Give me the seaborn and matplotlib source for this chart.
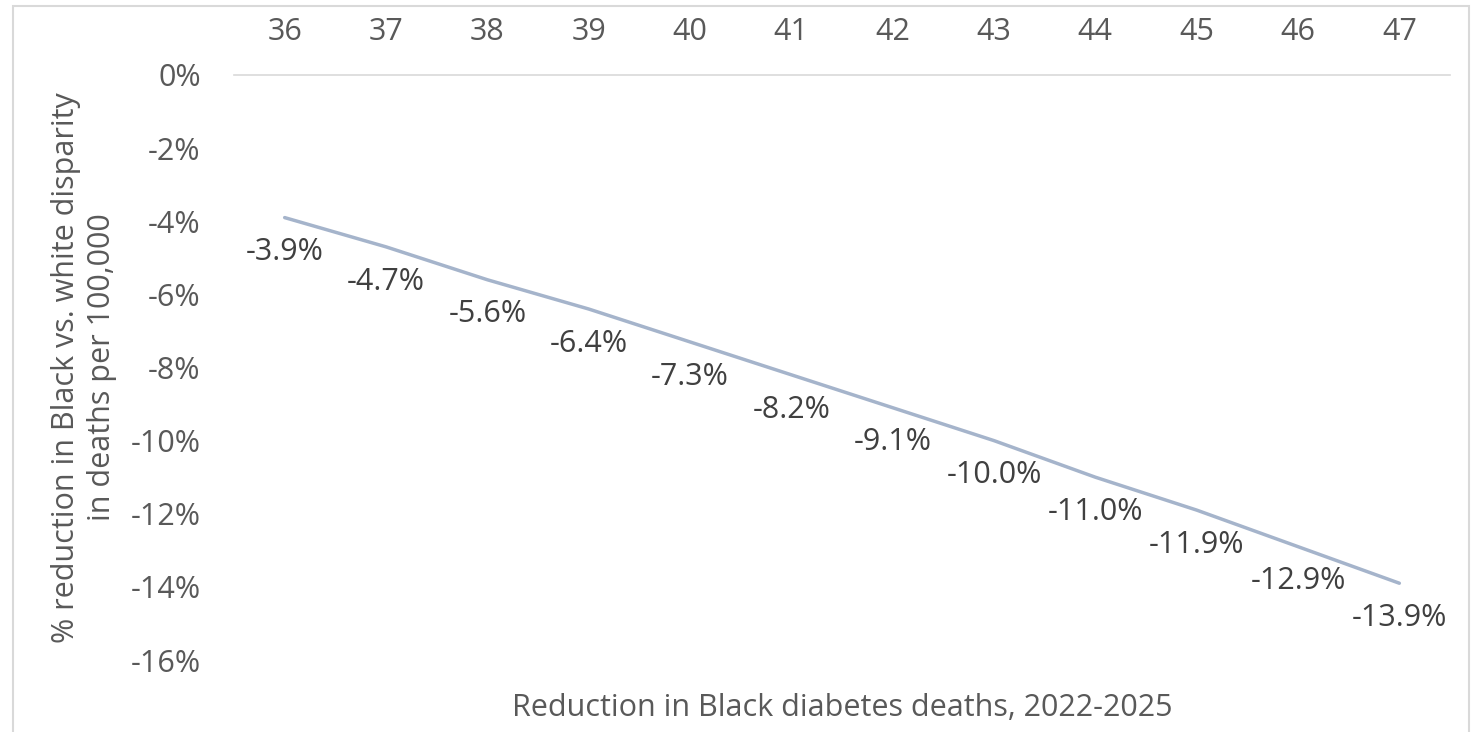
import matplotlib
matplotlib.use("Agg")
import matplotlib.pyplot as plt
import seaborn as sns
import pandas as pd
from matplotlib.patches import Rectangle

# Black diabetes deaths averted vs. change in the Black-white disparity
deaths_reduced = [36, 37, 38, 39, 40, 41, 42, 43, 44, 45, 46, 47]
disparity_change = [-3.9, -4.7, -5.6, -6.4, -7.3, -8.2, -9.1, -10.0, -11.0, -11.9, -12.9, -13.9]
y_ticks = [0, -2, -4, -6, -8, -10, -12, -14, -16]

df = pd.DataFrame({"deaths": deaths_reduced, "change": disparity_change})

sns.set_theme(style="white")
plt.rcParams["font.family"] = ["Open Sans", "DejaVu Sans"]

text_color = "#595959"
line_color = "#A5B4CB"
fs = 22

fig = plt.figure(figsize=(14.76, 7.32), dpi=100)
ax = fig.add_axes([234 / 1476, 1 - 660 / 732, (1450 - 234) / 1476, (660 - 75) / 732])

sns.lineplot(data=df, x="deaths", y="change", ax=ax, color=line_color, linewidth=2.5)

for x, y in zip(deaths_reduced, disparity_change):
    ax.annotate(f"{y:.1f}%", (x, y), xytext=(0, -25), textcoords="offset points",
                ha="center", va="center", fontsize=fs, color="#404040")

ax.set_xlim(35.5, 47.5)
ax.set_ylim(-16, 0)
ax.set_xticks(deaths_reduced)
ax.set_xticklabels([str(v) for v in deaths_reduced])
ax.set_yticks(y_ticks)
ax.set_yticklabels([f"{v}%" for v in y_ticks])
ax.xaxis.tick_top()
ax.tick_params(axis="x", length=0, pad=20, labelsize=fs, labelcolor=text_color)
ax.tick_params(axis="y", length=0, pad=24, labelsize=fs, labelcolor=text_color)

for side in ["left", "right", "bottom"]:
    ax.spines[side].set_visible(False)
ax.spines["top"].set_color("#D9D9D9")
ax.spines["top"].set_linewidth(1.2)

ax.set_xlabel("")
ax.set_ylabel("% reduction in Black vs. white disparity\nin deaths per 100,000",
              fontsize=fs, color=text_color, labelpad=10, linespacing=1.25)
fig.text(842 / 1476, 1 - 708 / 732, "Reduction in Black diabetes deaths, 2022-2025",
         ha="center", va="center", fontsize=fs, color=text_color)

# chart frame
fig.patches.append(Rectangle((13 / 1476, -0.05), (1469 - 13) / 1476, 1.05 - 6 / 732,
                             transform=fig.transFigure, fill=False,
                             edgecolor="#D9D9D9", linewidth=1.5))

fig.savefig("out.png", dpi=100, facecolor="white")
